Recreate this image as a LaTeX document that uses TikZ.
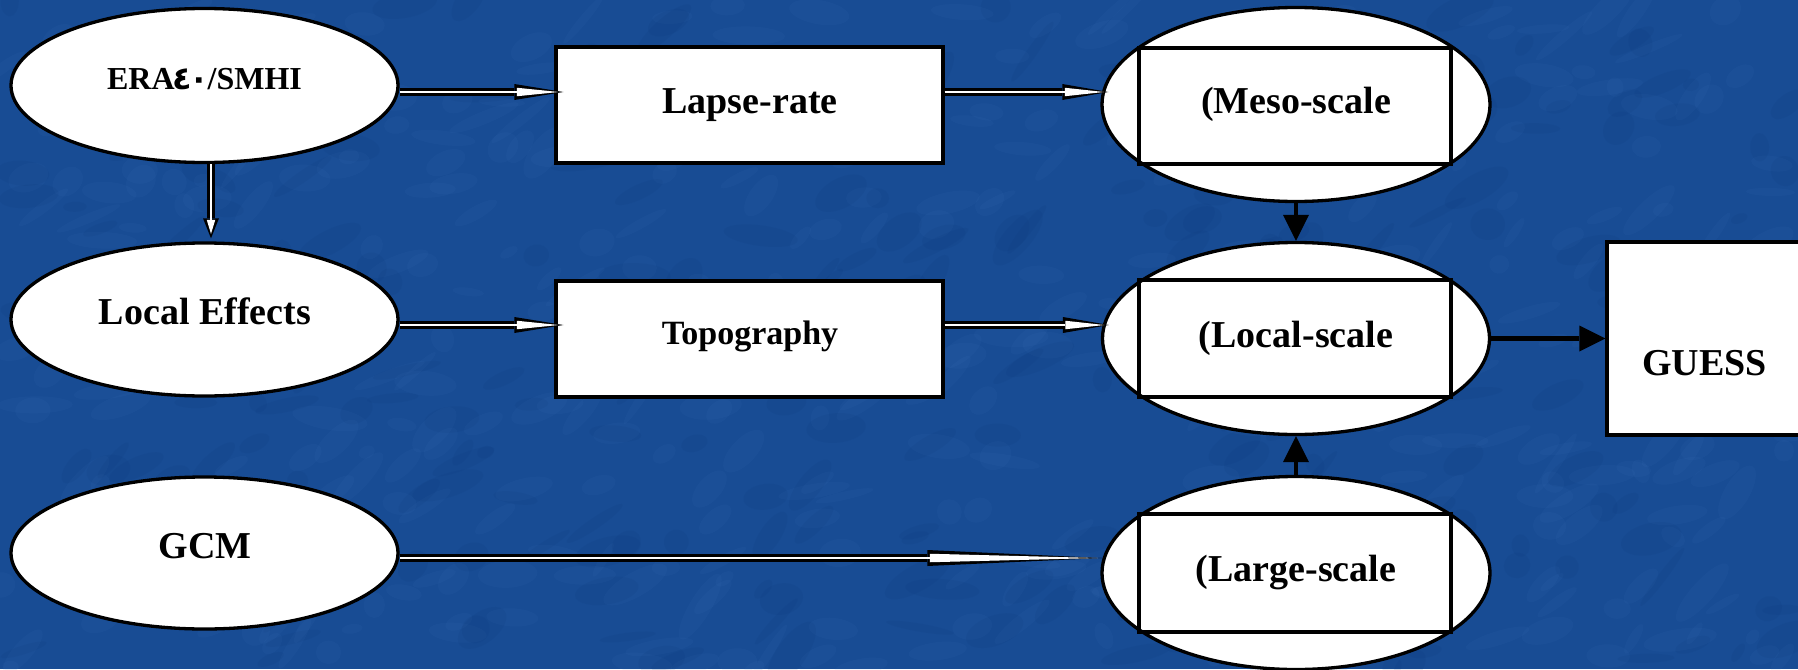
\documentclass[tikz,border=0pt]{standalone}
\usepackage{fontspec}
\setmainfont{Liberation Serif}
\newfontfamily\arabicfont[Script=Arabic]{DejaVu Sans}
\usetikzlibrary{arrows.meta, shapes.geometric}

\definecolor{paper}{RGB}{24,76,148}
\definecolor{paperlight}{RGB}{75,130,200}
\definecolor{paperdark}{RGB}{10,50,112}

\begin{document}
\begin{tikzpicture}[x=1pt, y=-1pt,
  oval/.style={ellipse, draw=black, line width=3.3pt, fill=white, inner sep=0pt},
  panel/.style={rectangle, draw=black, line width=3.3pt, fill=white, inner sep=0pt},
  frame/.style={rectangle, draw=black, line width=3.3pt, inner sep=0pt},
  lbl/.style={anchor=base, inner sep=0pt, font=\bfseries\fontsize{#1}{#1}\selectfont},
  lbl/.default=38,
  dblarrow/.style 2 args={draw=white, line width=2.6pt, shorten >=4.5pt,
    -{Triangle[length=#2, width=8.5pt, line width=0pt]},
    preaction={draw=black, line width=7.5pt, shorten >=0pt,
      -{Triangle[length=#1, width=16pt, line width=0pt]}}},
  solidarrow/.style={draw=black, line width=4.5pt,
    -{Triangle[length=26pt, width=26pt, line width=0pt]}}
]
\useasboundingbox (0,0) rectangle (1798,669);
\clip (0,0) rectangle (1798,669);

% mottled blue background
\fill[paper] (0,0) rectangle (1798,669);
\pgfmathsetseed{11}
\foreach \i in {1,...,420}{
  \pgfmathsetmacro\px{rnd*1798}
  \pgfmathsetmacro\py{rnd*669}
  \pgfmathsetmacro\rot{rnd*70-10}
  \fill[paperlight, opacity=0.07, rotate around={\rot:(\px,\py)}]
    (\px,\py) ellipse ({8+rnd*30} and {4+rnd*10});
}
\foreach \i in {1,...,260}{
  \pgfmathsetmacro\px{rnd*1798}
  \pgfmathsetmacro\py{rnd*669}
  \pgfmathsetmacro\rot{rnd*70-10}
  \fill[paperdark, opacity=0.09, rotate around={\rot:(\px,\py)}]
    (\px,\py) ellipse ({8+rnd*30} and {4+rnd*12});
}

% left column: data sources
\node[oval, minimum width=387pt, minimum height=154pt] (era) at (204.5,85.5) {};
\node[oval, minimum width=387pt, minimum height=153pt] (loc) at (204.5,319.5) {};
\node[oval, minimum width=387pt, minimum height=152pt] (gcm) at (204.5,553) {};

% middle column: processing
\node[panel, minimum width=387pt, minimum height=116pt] (lapse) at (749.5,105) {};
\node[panel, minimum width=387pt, minimum height=116pt] (topo) at (749.5,339) {};

% right column: scales
\node[oval, minimum width=388pt, minimum height=194pt] (meso) at (1296,104.5) {};
\node[frame, minimum width=312pt, minimum height=116pt] (mesobox) at (1295,106) {};
\node[oval, minimum width=387pt, minimum height=192pt] (lsc) at (1296,338.5) {};
\node[frame, minimum width=312pt, minimum height=117pt] (lscbox) at (1295,338.5) {};
\node[oval, minimum width=388pt, minimum height=193pt] (large) at (1296,573) {};
\node[frame, minimum width=312pt, minimum height=118pt] (largebox) at (1295,573) {};

% output
\node[panel, minimum width=223pt, minimum height=193pt] (guess) at (1718.5,338.5) {};

% labels
\node[lbl=32] (era-t) at (204.5,89) {ERA{\arabicfont\bfseries\kern-2pt ٤\kern-3pt٠\kern-1pt}/SMHI};
\node[lbl] (loc-t) at (205,324) {Local Effects};
\node[lbl] (gcm-t) at (205,558) {GCM};
\node[lbl] (lapse-t) at (750,113) {Lapse-rate};
\node[lbl=34] (topo-t) at (750,344) {Topography};
\node[lbl] (meso-t) at (1296,113) {(Meso-scale};
\node[lbl] (lsc-t) at (1296,347) {(Local-scale};
\node[lbl] (large-t) at (1296,581) {(Large-scale};
\node[lbl] (guess-t) at (1704.5,375) {GUESS};

% hollow connectors
\draw[dblarrow={49pt}{42pt}] ([yshift=-6.5pt]era.east) -- ([xshift=9pt,yshift=13pt]lapse.west);
\draw[dblarrow={46pt}{39pt}] ([yshift=13pt]lapse.east) -- ([xshift=8pt,yshift=12.5pt]meso.west);
\draw[dblarrow={20pt}{14pt}] ([xshift=6.5pt]era.south) -- ([xshift=6.5pt,yshift=3pt]loc.north);
\draw[dblarrow={49pt}{42pt}] ([yshift=-5.5pt]loc.east) -- ([xshift=9pt,yshift=14pt]topo.west);
\draw[dblarrow={46pt}{39pt}] ([yshift=14pt]topo.east) -- ([xshift=8pt,yshift=13.5pt]lsc.west);
\draw[dblarrow={175pt}{168pt}] ([yshift=-5pt]gcm.east) -- ([xshift=2pt,yshift=15pt]large.west);

% solid connectors
\draw[solidarrow] (meso.south) -- (lsc.north);
\draw[solidarrow] (large.north) -- (lsc.south);
\draw[solidarrow] (lsc.east) -- (guess.west);
\end{tikzpicture}
\end{document}
